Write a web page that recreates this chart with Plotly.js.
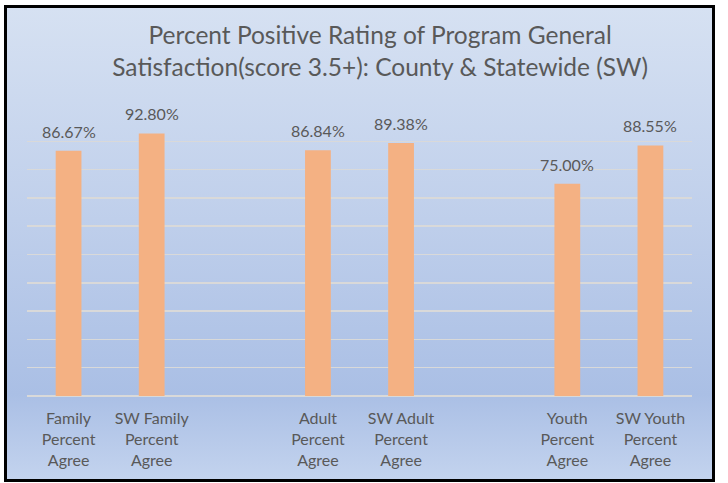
<!DOCTYPE html>
<html>
<head>
<meta charset="utf-8">
<script src="https://cdn.plot.ly/plotly-3.0.1.min.js"></script>
<style>
  html, body { margin: 0; padding: 0; background: #ffffff; }
  #wrap { position: relative; width: 728px; height: 483px; background: #ffffff; overflow: hidden; }
  #frame { position: absolute; left: 4px; top: 5px; width: 705px; height: 471px;
           border: 3px solid #000000;
           background: linear-gradient(to bottom, #D6E1F2 0%, #BFCFEB 45%, #AABFE5 82%, #C3D3EE 100%); }
  #chart { position: absolute; left: 0; top: 0; width: 728px; height: 483px; }
</style>
</head>
<body>
<div id="wrap">
  <div id="frame"></div>
  <div id="chart"></div>
</div>
<script>
// Data
const categories = ['Family<br>Percent<br>Agree', 'SW Family<br>Percent<br>Agree', ' ',
                    'Adult<br>Percent<br>Agree', 'SW Adult<br>Percent<br>Agree', '  ',
                    'Youth<br>Percent<br>Agree', 'SW Youth<br>Percent<br>Agree'];
const values = [0.8667, 0.9280, null, 0.8684, 0.8938, null, 0.7500, 0.8855];
const labels = ['86.67%', '92.80%', '', '86.84%', '89.38%', '', '75.00%', '88.55%'];
const titleText = 'Percent Positive Rating of Program General<br>Satisfaction(score 3.5+): County &amp; Statewide (SW)';

const FONT = 'Lato, "Liberation Sans", sans-serif';
const TXT = '#595959';

const trace = {
  type: 'bar',
  x: categories,
  y: values,
  marker: { color: '#F4B183' },
  hoverinfo: 'none'
};

const annotations = [];
categories.forEach(function (c, i) {
  if (values[i] !== null) {
    annotations.push({
      x: c, y: values[i], xref: 'x', yref: 'y',
      text: labels[i], showarrow: false,
      yanchor: 'bottom', yshift: 8,
      font: { family: FONT, size: 16, color: TXT }
    });
  }
});

const layout = {
  width: 728, height: 483,
  margin: { l: 27, r: 36, t: 113, b: 87, pad: 0 },
  paper_bgcolor: 'rgba(0,0,0,0)',
  plot_bgcolor: 'rgba(0,0,0,0)',
  showlegend: false,
  bargap: 0.69,
  title: {
    text: titleText,
    font: { family: FONT, size: 24.5, color: TXT },
    x: 0.531, xref: 'paper', xanchor: 'center',
    y: 0.908, yref: 'container', yanchor: 'top'
  },
  xaxis: {
    type: 'category',
    categoryorder: 'array',
    categoryarray: categories,
    range: [-0.5, 7.5],
    showgrid: false,
    showline: false,
    zeroline: false,
    ticks: 'outside', ticklen: 8, tickcolor: 'rgba(0,0,0,0)',
    tickfont: { family: FONT, size: 16, color: TXT },
    fixedrange: true
  },
  yaxis: {
    range: [0, 1],
    dtick: 0.1,
    showgrid: true,
    gridcolor: '#D9D9D9',
    gridwidth: 1.5,
    zeroline: true,
    zerolinecolor: '#D9D9D9',
    zerolinewidth: 1.5,
    showticklabels: false,
    ticks: '',
    fixedrange: true
  },
  annotations: annotations
};

Plotly.newPlot('chart', [trace], layout, { displayModeBar: false, staticPlot: true });
</script>
</body>
</html>
